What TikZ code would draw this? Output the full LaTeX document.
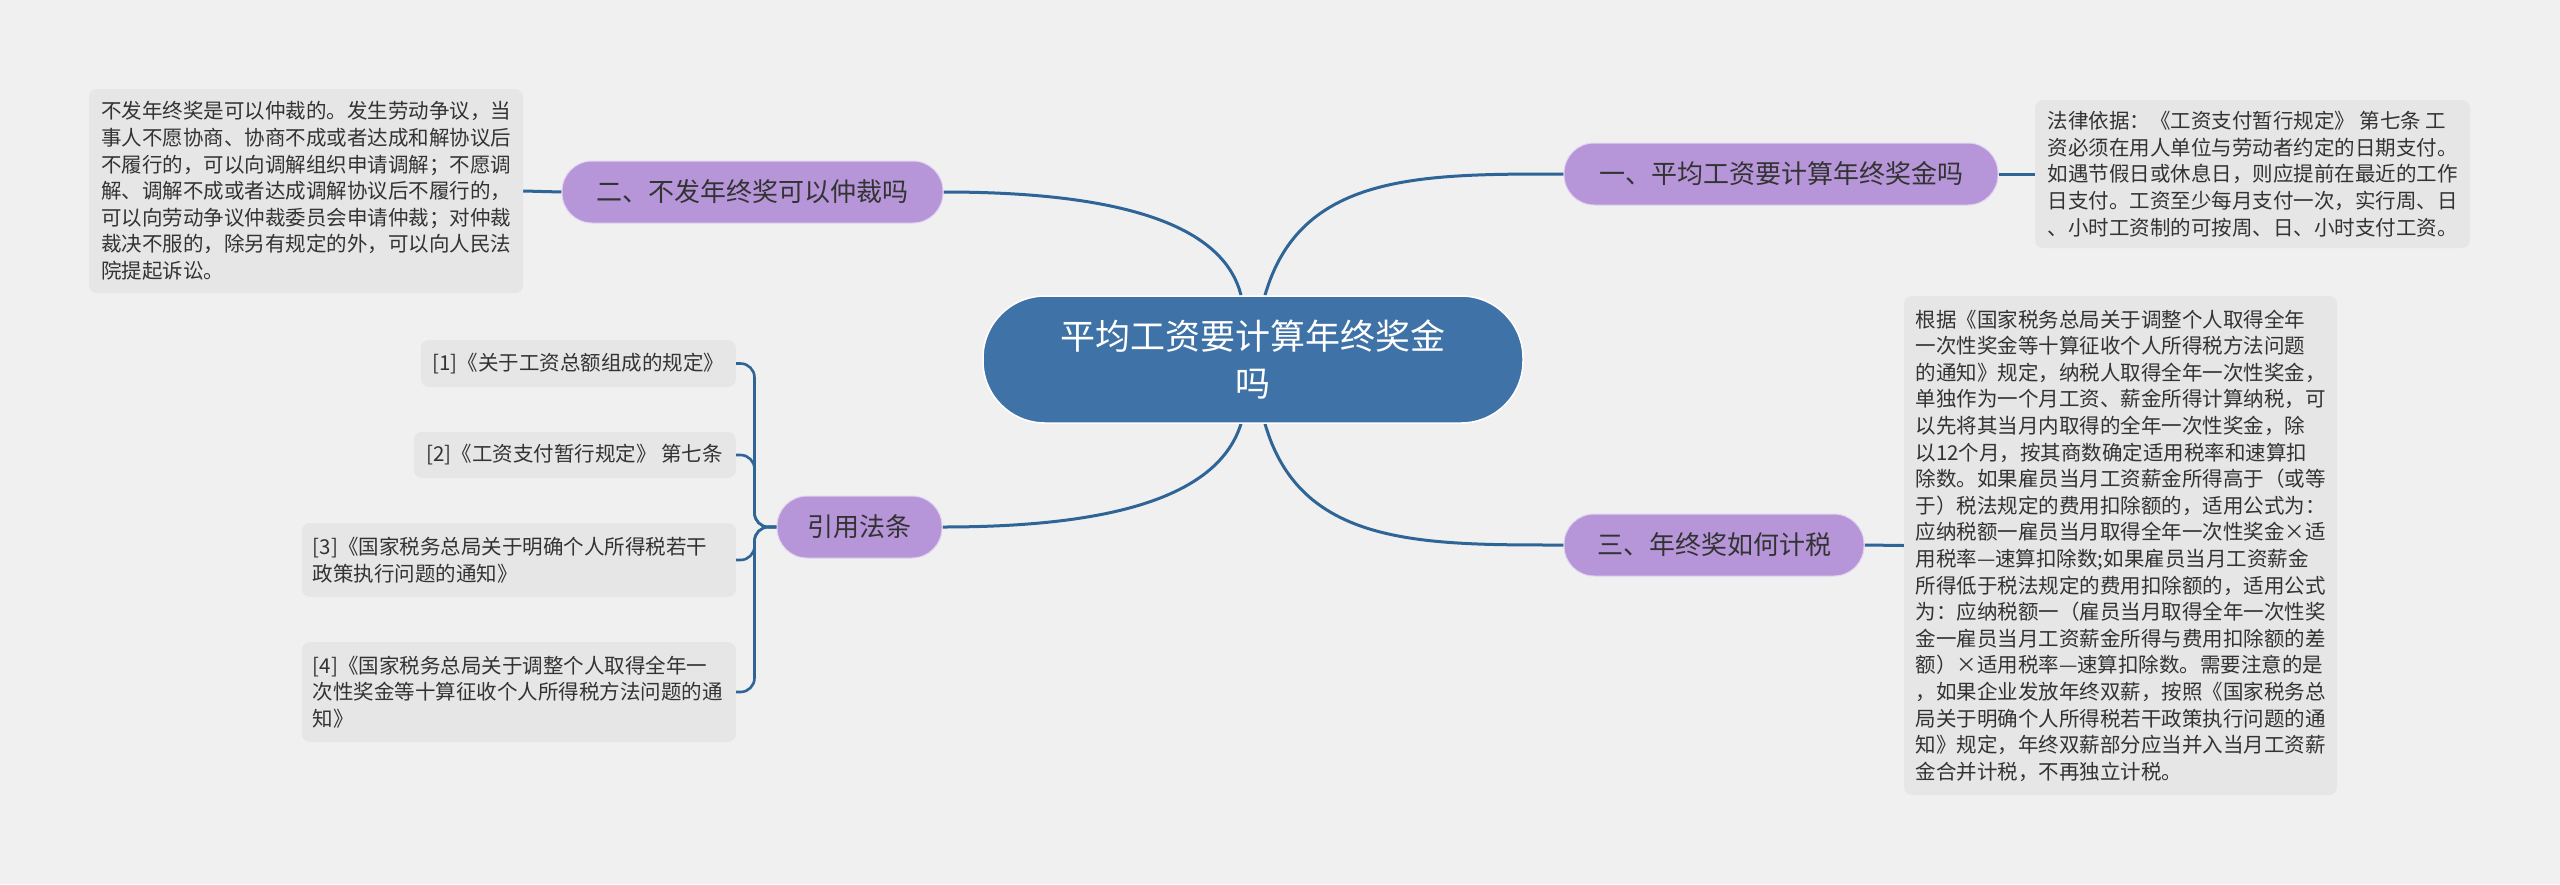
\documentclass[tikz,border=0pt]{standalone}
\usepackage{fontspec}
\setmainfont{Noto Sans CJK SC}
\usetikzlibrary{backgrounds}
\definecolor{bg}{HTML}{F0F0F0}
\definecolor{boxfill}{HTML}{E6E6E6}
\definecolor{topicfill}{HTML}{B696D8}
\definecolor{centerfill}{HTML}{3F72A6}
\definecolor{linec}{HTML}{2F6497}
\definecolor{txt}{HTML}{333333}
\begin{document}
\begin{tikzpicture}[x=1pt,y=-1pt,
  conn/.style={draw=linec, line width=3pt},
  refconn/.style={draw=linec, line width=2.6pt, rounded corners=14pt},
  topicnode/.style={fill=topicfill, draw=white!60!topicfill, line width=1pt, rounded corners=30pt, minimum height=62pt, inner sep=0pt, text=txt, font=\fontsize{26}{30}\selectfont},
  centernode/.style={fill=centerfill, draw=white, line width=1.5pt, rounded corners=62pt, minimum width=540pt, minimum height=127pt, text=white, align=center, inner sep=0pt, font=\fontsize{35}{47}\selectfont},
  detail/.style={fill=boxfill, rounded corners=8pt, inner xsep=11pt, inner ysep=0pt, text=txt, align=left, font=\fontsize{20.5}{26.6}\selectfont},
]
\useasboundingbox (0,0) rectangle (2560,884);

\node[centernode] (c) at (1253,359.5) {平均工资要计算年终奖金\\吗};
\node[topicnode, minimum width=434pt] (t1) at (1781,174) {一、平均工资要计算年终奖金吗};
\node[topicnode, minimum width=381pt] (t2) at (752.5,192) {二、不发年终奖可以仲裁吗};
\node[topicnode, minimum width=165pt] (t4) at (859.5,527) {引用法条};
\node[topicnode, minimum width=300pt] (t3) at (1714,545) {三、年终奖如何计税};

\node[detail, minimum width=434pt, minimum height=204pt] (d2) at (306,191) {不发年终奖是可以仲裁的。发生劳动争议，当\\
事人不愿协商、协商不成或者达成和解协议后\\
不履行的，可以向调解组织申请调解；不愿调\\
解、调解不成或者达成调解协议后不履行的，\\
可以向劳动争议仲裁委员会申请仲裁；对仲裁\\
裁决不服的，除另有规定的外，可以向人民法\\
院提起诉讼。};

\node[detail, minimum width=435pt, minimum height=148pt] (d1) at (2252.5,174) {法律依据：《工资支付暂行规定》 第七条 工\\
资必须在用人单位与劳动者约定的日期支付。\\
如遇节假日或休息日，则应提前在最近的工作\\
日支付。工资至少每月支付一次，实行周、日\\
、小时工资制的可按周、日、小时支付工资。};

\node[detail, minimum width=433pt, minimum height=499pt] (d3) at (2120.5,545.5) {根据《国家税务总局关于调整个人取得全年\\
一次性奖金等十算征收个人所得税方法问题\\
的通知》规定，纳税人取得全年一次性奖金，\\
单独作为一个月工资、薪金所得计算纳税，可\\
以先将其当月内取得的全年一次性奖金，除\\
以12个月，按其商数确定适用税率和速算扣\\
除数。如果雇员当月工资薪金所得高于（或等\\
于）税法规定的费用扣除额的，适用公式为：\\
应纳税额一雇员当月取得全年一次性奖金×适\\
用税率—速算扣除数;如果雇员当月工资薪金\\
所得低于税法规定的费用扣除额的，适用公式\\
为：应纳税额一（雇员当月取得全年一次性奖\\
金一雇员当月工资薪金所得与费用扣除额的差\\
额）×适用税率—速算扣除数。需要注意的是\\
，如果企业发放年终双薪，按照《国家税务总\\
局关于明确个人所得税若干政策执行问题的通\\
知》规定，年终双薪部分应当并入当月工资薪\\
金合并计税，不再独立计税。};

\node[detail, anchor=east, minimum width=315pt, minimum height=47pt] (r1) at (736,363.5) {[1]《关于工资总额组成的规定》};
\node[detail, anchor=east, minimum width=322pt, minimum height=46pt] (r2) at (736,455) {[2]《工资支付暂行规定》 第七条};
\node[detail, anchor=east, text width=412pt, minimum height=74pt] (r3) at (736,560) {[3]《国家税务总局关于明确个人所得税若干\\政策执行问题的通知》};
\node[detail, anchor=east, text width=412pt, minimum height=100pt] (r4) at (736,692) {[4]《国家税务总局关于调整个人取得全年一\\次性奖金等十算征收个人所得税方法问题的通\\知》};

\begin{scope}[on background layer]
\fill[bg] (0,0) rectangle (2560,884);
\draw[conn] ([xshift=12pt]c.north) .. controls +(35,-122) and +(-144,0) .. (t1.west);
\draw[conn] ([xshift=-12pt]c.north) .. controls +(-20,-80) and +(150,0) .. (t2.east);
\draw[conn] ([xshift=-12pt]c.south) .. controls +(-25,80) and +(150,0) .. (t4.east);
\draw[conn] ([xshift=12pt]c.south) .. controls +(35,122) and +(-144,0) .. (t3.west);
\draw[conn] (t2.west) -- (d2.east);
\draw[conn] (t1.east) -- (d1.west);
\draw[conn] (t3.east) -- (d3.west);
\draw[refconn] (t4.west) -- ++(-22,0) |- (r1.east);
\draw[refconn] (t4.west) -- ++(-22,0) |- (r2.east);
\draw[refconn] (t4.west) -- ++(-22,0) |- (r3.east);
\draw[refconn] (t4.west) -- ++(-22,0) |- (r4.east);
\end{scope}
\end{tikzpicture}
\end{document}
